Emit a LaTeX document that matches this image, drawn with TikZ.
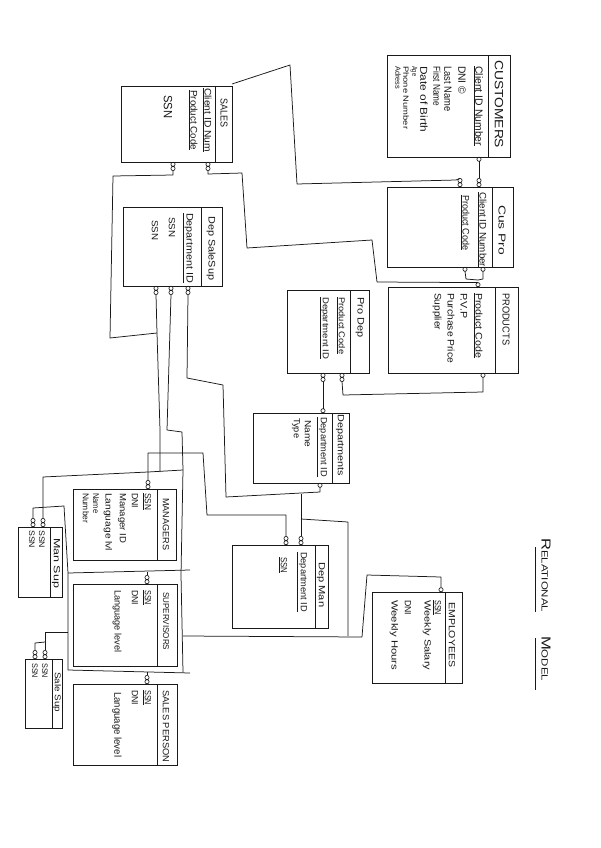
\documentclass[tikz,border=0pt]{standalone}
\usepackage{fontspec}
\usepackage{graphicx}
\setmainfont{Liberation Sans}
\newcommand{\fit}[2]{\resizebox{#1pt}{\height}{#2}}
\tikzset{
  ink/.style={line width=0.8pt, draw=black!90},
  wire/.style={line width=0.75pt, draw=black!90, line join=round},
  txt/.style={rotate=-90, anchor=west, inner sep=0pt, text=black!90},
  ovd/.pic={\draw[ink, line width=0.65pt] (0,-2.3) circle (2.1pt) (0,-6.5) circle (2.1pt);},
  ovu/.pic={\draw[ink, line width=0.65pt] (0,2.3) circle (2.1pt) (0,6.5) circle (2.1pt);},
  ovdone/.pic={\draw[ink, line width=0.65pt] (0,-2.3) circle (2.1pt);},
  ovuone/.pic={\draw[ink, line width=0.65pt] (0,2.3) circle (2.1pt);}
}
\newcommand{\tx}[6]{\node[txt,font=\fontsize{#5}{#5}\selectfont] (#1) at (#2,-#3) {\fit{#4}{#6}};}
\newcommand{\ux}[6]{\node[txt,font=\fontsize{#5}{#5}\selectfont] (#1) at (#2,-#3) {\underline{\fit{#4}{#6}}};}
\newcommand{\tbl}[5]{\draw[ink] (#1,-#2) rectangle (#3,-#4); \draw[ink] (#5,-#2) -- (#5,-#4);}
\begin{document}
\begin{tikzpicture}[x=1pt,y=1pt]
\useasboundingbox[fill=white] (0,0) rectangle (601,-848);

% ---------- tables ----------
\tbl{387}{55}{510}{157}{488}
\tbl{121}{86}{232}{162}{215}
\tbl{123}{207}{222}{286}{201}
\tbl{387}{187}{513}{267}{492}
\tbl{388}{287}{518}{373}{495}
\tbl{287}{290}{369}{373}{350}
\tbl{253}{413}{349}{483}{332}
\tbl{73}{489}{176}{560}{157}
\tbl{18}{527}{62}{597}{50}
\tbl{73}{584}{177}{666}{157}
\tbl{25}{659}{62}{728}{52}
\tbl{73}{684}{177}{765}{157}
\tbl{232}{545}{328}{628}{315}
\tbl{372}{592}{462}{683}{445}

% ---------- CUSTOMERS ----------
\tx{custT}{499}{60}{88}{12}{CUSTOMERS}
\ux{custA}{478}{66}{80}{10.5}{Client ID Number}
\tx{custB}{462}{66}{28}{10.5}{DNI ©}
\tx{custC}{448}{66}{45}{10.5}{Last Name}
\tx{custD}{437}{66}{40}{10}{First Name}
\tx{custE}{424}{66}{66}{10}{Date of Birth}
\tx{custF}{414}{66}{10}{7.5}{Age}
\tx{custG}{406}{66}{63}{7.5}{Phone Number}
\tx{custH}{398}{66}{23}{7.5}{Adress}

% ---------- SALES ----------
\tx{salT}{224}{98}{29}{10}{SALES}
\ux{salA}{207}{88}{64}{9.5}{Client ID Num}
\ux{salB}{193}{90}{60}{9.5}{Product Code}
\tx{salC}{168}{95}{23}{12}{SSN}

% ---------- Dep SaleSup ----------
\tx{dssT}{211}{216}{64}{9.5}{Dep SaleSup}
\ux{dssA}{188}{213}{70}{9.5}{Department ID}
\tx{dssB}{172}{217}{20}{9}{SSN}
\tx{dssC}{155}{220}{20}{9}{SSN}

% ---------- Cus Pro ----------
\tx{cpT}{502}{205}{50}{10}{Cus Pro}
\ux{cpA}{482}{192}{75}{9.5}{Client ID Number}
\ux{cpB}{465}{195}{55}{9.5}{Product Code}

% ---------- PRODUCTS ----------
\tx{prT}{506}{293}{52}{10}{PRODUCTS}
\ux{prA}{478}{293}{65}{9.5}{Product Code}
\tx{prB}{464}{293}{25}{9.5}{P.V.P}
\tx{prC}{451}{293}{70}{9.5}{Purchase Price}
\tx{prD}{437}{293}{37}{9.5}{Supplier}

% ---------- Pro Dep ----------
\tx{pdT}{360}{297}{40}{9.5}{Pro Dep}
\ux{pdA}{341}{297}{57}{8.5}{Product Code}
\ux{pdB}{324}{297}{62}{8.5}{Department ID}

% ---------- Departments ----------
\tx{dpT}{340}{414}{62}{9}{Departments}
\ux{dpA}{322}{417}{60}{9}{Department ID}
\tx{dpB}{308}{420}{27}{9}{Name}
\tx{dpC}{296}{418}{20}{9}{Type}

% ---------- MANAGERS ----------
\tx{mgT}{166}{498}{52}{9}{MANAGERS}
\ux{mgA}{147}{493}{17}{9}{SSN}
\tx{mgB}{135}{493}{15}{9}{DNI}
\tx{mgC}{122}{493}{50}{9}{Manager ID}
\tx{mgD}{108}{493}{58}{9}{Language lvl}
\tx{mgE}{96}{493}{20}{8.5}{Name}
\tx{mgF}{86}{493}{30}{8.5}{Number}

% ---------- Man Sup ----------
\tx{msT}{56}{538}{50}{9}{Man Sup}
\tx{msA}{42}{530}{18}{8}{SSN}
\tx{msB}{32}{530}{18}{8}{SSN}

% ---------- SUPERVISORS ----------
\tx{spT}{166}{592}{58}{8.5}{SUPERVISORS}
\ux{spA}{147}{590}{15}{9}{SSN}
\tx{spB}{135}{590}{15}{9}{DNI}
\tx{spC}{117}{590}{62}{9.5}{Language level}

% ---------- Sale Sup ----------
\tx{ssT}{57}{672}{40}{8.5}{Sale Sup}
\tx{ssA}{45}{663}{15}{8}{SSN}
\tx{ssB}{35}{663}{15}{8}{SSN}

% ---------- SALES PERSON ----------
\tx{sppT}{166}{690}{72}{9}{SALES PERSON}
\ux{sppA}{147}{690}{15}{9}{SSN}
\tx{sppB}{135}{690}{15}{9}{DNI}
\tx{sppC}{117}{692}{65}{10}{Language level}

% ---------- Dep Man ----------
\tx{dmT}{321}{562}{45}{9}{Dep Man}
\ux{dmA}{302}{552}{60}{9}{Department ID}
\ux{dmB}{283}{557}{16}{9}{SSN}

% ---------- EMPLOYEES ----------
\tx{emT}{452}{602}{65}{9}{EMPLOYEES}
\ux{emA}{437}{600}{15}{9}{SSN}
\tx{emB}{427}{600}{70}{9}{Weekly Salary}
\tx{emC}{408}{600}{15}{9}{DNI}
\tx{emD}{394}{600}{70}{9}{Weekly Hours}

% ---------- title ----------
\tx{ttA}{546}{538}{74}{11}{\fontsize{13}{13}\selectfont R\fontsize{9}{9}\selectfont ELATIONAL}
\tx{ttB}{546}{636}{45}{11}{\fontsize{13}{13}\selectfont M\fontsize{9}{9}\selectfont ODEL}
\draw[ink] (535,-547) -- (535,-612);
\draw[ink] (535,-638) -- (535,-690);

% ---------- connector ends ----------
\pic at (479,-157) {ovdone};
\pic at (460,-187) {ovu};
\pic at (479,-187) {ovu};
\pic at (465,-267) {ovdone};
\pic at (483,-267) {ovdone};
\pic at (478,-287) {ovuone};
\pic at (483,-373) {ovdone};
\pic at (173,-162) {ovd};
\pic at (208,-162) {ovd};
\pic at (156,-286) {ovd};
\pic at (171,-286) {ovd};
\pic at (188,-286) {ovd};
\pic at (323,-373) {ovd};
\pic at (342,-373) {ovd};
\pic at (323,-413) {ovuone};
\pic at (320,-483) {ovdone};
\pic at (148,-489) {ovu};
\pic at (33,-527) {ovu};
\pic at (43,-527) {ovu};
\pic at (147,-584) {ovu};
\pic at (35,-659) {ovu};
\pic at (45,-659) {ovu};
\pic at (147,-684) {ovu};
\pic at (286,-545) {ovu};
\pic at (301,-545) {ovu};
\pic at (441,-592) {ovuone};

% ---------- connectors ----------
\draw[wire] (479,-161.4) -- (479,-178.4);
\draw[wire] (232,-84) -- (290,-65) -- (297,-184) -- (456,-180) -- (460,-178.4);
\draw[wire] (208,-170.6) -- (208,-174) -- (242,-173) -- (247,-248) -- (372,-240) -- (377,-282) -- (478,-282.6);
\draw[wire] (465,-271.4) -- (466,-279) -- (478,-280);
\draw[wire] (483,-271.4) -- (483,-279) -- (478,-280);
\draw[wire] (173,-170.6) -- (173,-175) -- (113,-176) -- (110,-338) -- (157,-333);
\draw[wire] (156,-294.6) -- (157,-333) -- (160,-430) -- (160,-472);
\draw[wire] (171,-294.6) -- (167,-430) -- (182,-432) -- (183,-470) -- (181,-575) -- (183,-672);
\draw[wire] (188,-294.6) -- (187,-378) -- (223,-385) -- (226,-497) -- (320,-492) -- (320,-487.4);
\draw[wire] (301,-494) -- (301,-536.4);
\draw[wire] (323,-381.6) -- (323,-408.6);
\draw[wire] (342,-381.6) -- (343,-395) -- (483,-392) -- (483,-377.4);
\draw[wire] (148,-480.4) -- (148,-453) -- (203,-453) -- (207,-515) -- (286,-515) -- (286,-536.4);
\draw[wire] (301,-519) -- (348,-522) -- (348,-636);
\draw[wire] (441,-587.6) -- (441,-577) -- (367,-575) -- (362,-637) -- (183,-636);
\draw[wire] (43,-518.4) -- (43,-477) -- (148,-472) -- (183,-470);
\draw[wire] (33,-518.4) -- (33,-508) -- (64,-506) -- (68,-573) -- (68,-670);
\draw[wire] (68,-573) -- (190,-570);
\draw[wire] (147,-575.4) -- (147,-571.5);
\draw[wire] (68,-670) -- (190,-673);
\draw[wire] (147,-675.4) -- (147,-671.5);
\draw[wire] (45,-650.4) -- (45,-632) -- (68,-632);
\draw[wire] (35,-650.4) -- (35,-643) -- (45,-642);
\end{tikzpicture}
\end{document}
